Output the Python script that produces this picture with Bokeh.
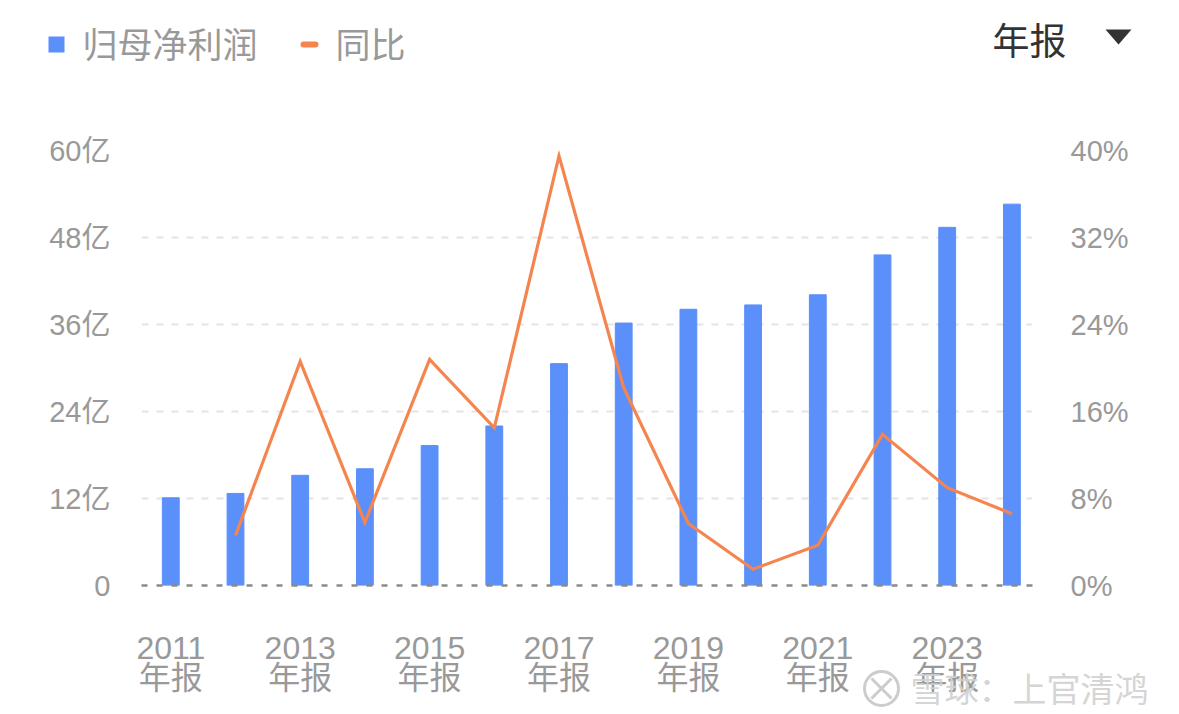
from bokeh.plotting import figure
from bokeh.models import Range1d, LinearAxis, FixedTicker, ColumnDataSource
from bokeh.core.properties import value
from bokeh.embed import file_html
from bokeh.resources import INLINE

# ---------------- data ----------------
years = ["2011", "2012", "2013", "2014", "2015", "2016", "2017",
         "2018", "2019", "2020", "2021", "2022", "2023", "2024"]
profit = [12.1, 12.7, 15.2, 16.1, 19.3, 22.0, 30.6,
          36.2, 38.1, 38.7, 40.1, 45.6, 49.4, 52.6]          # 亿
yoy = [None, 4.6, 20.6, 5.8, 20.8, 14.5, 39.5,
       18.2, 5.7, 1.5, 3.7, 13.9, 9.0, 6.6]                  # %
left_ticks = [0, 12, 24, 36, 48, 60]
left_labels = ["0", "12亿", "24亿", "36亿", "48亿", "60亿"]
right_ticks = [0, 8, 16, 24, 32, 40]
right_labels = ["0%", "8%", "16%", "24%", "32%", "40%"]
legend_names = ["归母净利润", "同比"]
period_label = "年报"
watermark = "雪球：上官清鸿"

BLUE = "#5B8FF9"
ORANGE = "#F5854F"
GREY = "#999999"
FONT = "Liberation Sans, Noto Sans CJK SC"

xs = list(range(len(years)))

# ---------------- layout helpers (page px -> data) ----------------
FRAME_L, FRAME_R, FRAME_T, FRAME_B = 141, 1032, 150, 585
X0_PX, X_STEP = 170.3, 64.7
def px2x(px):
    return (px - X0_PX) / X_STEP
def px2y(py):
    return (FRAME_B - py) / ((FRAME_B - FRAME_T) / 60.0)

p = figure(frame_width=FRAME_R - FRAME_L, frame_height=FRAME_B - FRAME_T,
           x_range=Range1d(px2x(FRAME_L), px2x(FRAME_R)), y_range=Range1d(0, 60),
           output_backend="svg", toolbar_location=None,
           min_border_left=FRAME_L, min_border_top=FRAME_T,
           min_border_right=1171 - FRAME_R, min_border_bottom=713 - FRAME_B)
p.outline_line_color = None
p.background_fill_color = "white"
p.border_fill_color = "white"
p.extra_y_ranges = {"pct": Range1d(0, 40)}

src = ColumnDataSource(dict(x=xs, profit=profit))
p.vbar(x="x", top="profit", width=0.26, source=src, color=BLUE)

line_src = ColumnDataSource(dict(x=xs[1:], yoy=yoy[1:]))
p.line(x="x", y="yoy", source=line_src, y_range_name="pct",
       line_color=ORANGE, line_width=3.2, line_join="miter")

# grid
p.xgrid.visible = False
p.ygrid.ticker = FixedTicker(ticks=left_ticks[1:])
p.ygrid.grid_line_color = "#e4e4e4"
p.ygrid.grid_line_width = 2
p.ygrid.grid_line_dash = "7 8"

# x axis
xa = p.xaxis[0]
xa.ticker = FixedTicker(ticks=xs[::2])
xa.major_label_overrides = {i: years[i] + "\n" + period_label for i in xs[::2]}
xa.major_label_text_font = FONT
xa.major_label_text_font_size = "32px"
xa.major_label_text_color = GREY
xa.major_label_text_line_height = 0.85
xa.major_label_standoff = 44
xa.major_tick_line_color = None
xa.minor_tick_line_color = None
xa.major_tick_out = 0
xa.minor_tick_out = 0
xa.axis_line_color = "#8a8a8a"
xa.axis_line_width = 2.5
xa.axis_line_dash = "6 9"

# left axis
ya = p.yaxis[0]
ya.ticker = FixedTicker(ticks=left_ticks)
ya.major_label_overrides = dict(zip(left_ticks, left_labels))
ya.major_label_text_font = FONT
ya.major_label_text_font_size = "29px"
ya.major_label_text_color = GREY
ya.major_label_standoff = 31
ya.axis_line_color = None
ya.major_tick_line_color = None
ya.minor_tick_line_color = None
ya.major_tick_out = 0
ya.minor_tick_out = 0

# right axis
ra = LinearAxis(y_range_name="pct", ticker=FixedTicker(ticks=right_ticks))
ra.major_label_overrides = dict(zip(right_ticks, right_labels))
ra.major_label_text_font = FONT
ra.major_label_text_font_size = "29px"
ra.major_label_text_color = GREY
ra.major_label_standoff = 38
ra.axis_line_color = None
ra.major_tick_line_color = None
ra.minor_tick_line_color = None
ra.major_tick_out = 0
ra.minor_tick_out = 0
p.add_layout(ra, "right")

# ---------------- header: legend + period selector (overlay glyphs) ----------------
p.quad(left=[px2x(48)], right=[px2x(64)], top=[px2y(36)], bottom=[px2y(52)],
       fill_color=BLUE, line_color=None, level="overlay")
p.segment(x0=[px2x(303)], x1=[px2x(315)], y0=[px2y(44)], y1=[px2y(44)],
          line_color=ORANGE, line_width=6, line_cap="round", level="overlay")
p.text(x=[px2x(82), px2x(335)], y=[px2y(45), px2y(45)], text=legend_names,
       text_font=value(FONT), text_font_size=value("35px"), text_color=GREY,
       text_baseline="middle", level="overlay")
p.text(x=[px2x(992)], y=[px2y(42)], text=[period_label],
       text_font=value(FONT), text_font_size=value("37px"), text_color="#333333",
       text_baseline="middle", level="overlay")
p.patch(x=[px2x(1105), px2x(1131), px2x(1118)], y=[px2y(29), px2y(29), px2y(44)],
        fill_color="#333333", line_color=None, level="overlay")

# watermark (logo + text)
p.ellipse(x=[px2x(881)], y=[px2y(688)], width=34, height=34,
          width_units="screen", height_units="screen",
          fill_alpha=0, line_color="#cccccc", line_width=3, level="overlay")
p.segment(x0=[px2x(871), px2x(871)], y0=[px2y(678), px2y(698)],
          x1=[px2x(891), px2x(891)], y1=[px2y(698), px2y(678)],
          line_color="#cccccc", line_width=3, level="overlay")
p.text(x=[px2x(910)], y=[px2y(689)], text=[watermark],
       text_font=value(FONT), text_font_size=value("34px"), text_color="#d0d0d0",
       text_alpha=0.9, text_baseline="middle", level="overlay")

open("out.html", "w").write(file_html(p, INLINE))
